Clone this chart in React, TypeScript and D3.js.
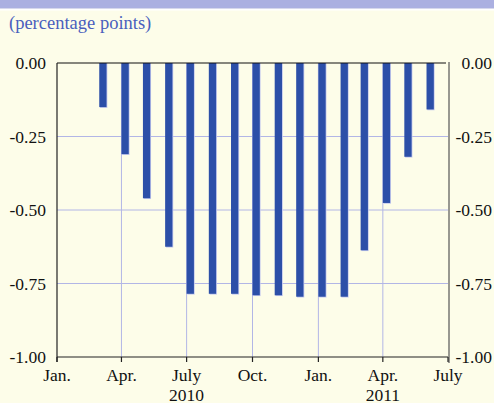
import React from "react";
import * as d3 from "d3";

const months: string[] = [
  "2010-03", "2010-04", "2010-05", "2010-06", "2010-07", "2010-08", "2010-09", "2010-10",
  "2010-11", "2010-12", "2011-01", "2011-02", "2011-03", "2011-04", "2011-05", "2011-06",
];
const values: number[] = [
  -0.15, -0.31, -0.46, -0.625, -0.785, -0.785, -0.785, -0.79,
  -0.79, -0.795, -0.795, -0.795, -0.637, -0.476, -0.319, -0.158,
];
const xTickDates: string[] = ["2010-01", "2010-04", "2010-07", "2010-10", "2011-01", "2011-04", "2011-07"];
const xTickLabels: string[] = ["Jan.", "Apr.", "July", "Oct.", "Jan.", "Apr.", "July"];
const yearLabels: { date: string; label: string }[] = [
  { date: "2010-07", label: "2010" },
  { date: "2011-04", label: "2011" },
];
const yTicks: number[] = [0, -0.25, -0.5, -0.75, -1];
const subtitle = "(percentage points)";

const W = 494;
const H = 403;
const parse = d3.utcParse("%Y-%m");
const fmt = (v: number) => d3.format(".2f")(v).replace("\u2212", "-");

export default function App() {
  const x = d3
    .scaleUtc()
    .domain([parse("2010-01") as Date, parse("2011-07") as Date])
    .range([57, 448]);
  const y = d3.scaleLinear().domain([-1, 0]).range([357, 63]);
  const barW = 7.3;
  const font = "'Liberation Serif', 'Times New Roman', Times, serif";
  const gridColor = "#b2b6e6";
  const [x0, x1] = x.range();
  const [yb, yt] = y.range();

  return (
    <div style={{ position: "absolute", left: 0, top: 0 }}>
      <svg width={W} height={H} style={{ display: "block" }}>
        <rect x={0} y={0} width={W} height={H} fill="#fdfde9" />
        <rect x={0} y={0} width={W} height={8.7} fill="#abb0e1" />
        <rect x={0} y={8.7} width={W} height={1.8} fill="#ffffff" />
        <text x={9} y={29} fontFamily={font} fontSize={18.5} fill="#4a5fbd">
          {subtitle}
        </text>

        {/* gridlines */}
        {yTicks
          .filter((v) => v !== 0 && v !== -1)
          .map((v) => (
            <line key={"hg" + v} x1={x0} x2={x1} y1={y(v)} y2={y(v)} stroke={gridColor} strokeWidth={1} />
          ))}
        {xTickDates.slice(1, -1).map((d) => {
          const xx = x(parse(d) as Date);
          return <line key={"vg" + d} x1={xx} x2={xx} y1={yt} y2={yb} stroke={gridColor} strokeWidth={1} />;
        })}

        {/* bars */}
        {months.map((m, i) => {
          const bx = x(parse(m) as Date);
          const top = y(0);
          const h = y(values[i]) - top;
          return (
            <g key={m}>
              <rect x={bx + 0.8} y={top} width={barW} height={h + 0.8} fill="#c3c8ee" />
              <rect x={bx} y={top} width={barW} height={h} fill="#2c4fa8" />
            </g>
          );
        })}

        {/* axes */}
        <line x1={x0} x2={x1 - 2} y1={yt} y2={yt} stroke="#111" strokeWidth={1.2} />
        <line x1={x0} x2={x1} y1={yb} y2={yb} stroke="#222" strokeWidth={1.2} />
        <line x1={x0} x2={x0} y1={yt} y2={yb + 5} stroke="#222" strokeWidth={1.2} />
        <line x1={x1 + 1} x2={x1 + 1} y1={yt - 1} y2={yb + 6} stroke="#555" strokeWidth={1.2} />
        {xTickDates.map((d) => {
          const xx = x(parse(d) as Date);
          return <line key={"t" + d} x1={xx} x2={xx} y1={yb} y2={yb + 5} stroke="#222" strokeWidth={1.2} />;
        })}

        {/* y labels */}
        {yTicks.map((v) => (
          <g key={"yl" + v} fontFamily={font} fontSize={17.5} fill="#111">
            <text x={46} y={y(v) + 6} textAnchor="end">
              {fmt(v)}
            </text>
            <text x={492} y={y(v) + 6} textAnchor="end">
              {fmt(v)}
            </text>
          </g>
        ))}

        {/* x labels */}
        {xTickDates.map((d, i) => (
          <text
            key={"xl" + d}
            x={x(parse(d) as Date)}
            y={381}
            textAnchor="middle"
            fontFamily={font}
            fontSize={17.5}
            fill="#111"
          >
            {xTickLabels[i]}
          </text>
        ))}
        {yearLabels.map((yl) => (
          <text
            key={"yr" + yl.label}
            x={x(parse(yl.date) as Date)}
            y={401}
            textAnchor="middle"
            fontFamily={font}
            fontSize={17.5}
            fill="#111"
          >
            {yl.label}
          </text>
        ))}
      </svg>
    </div>
  );
}
